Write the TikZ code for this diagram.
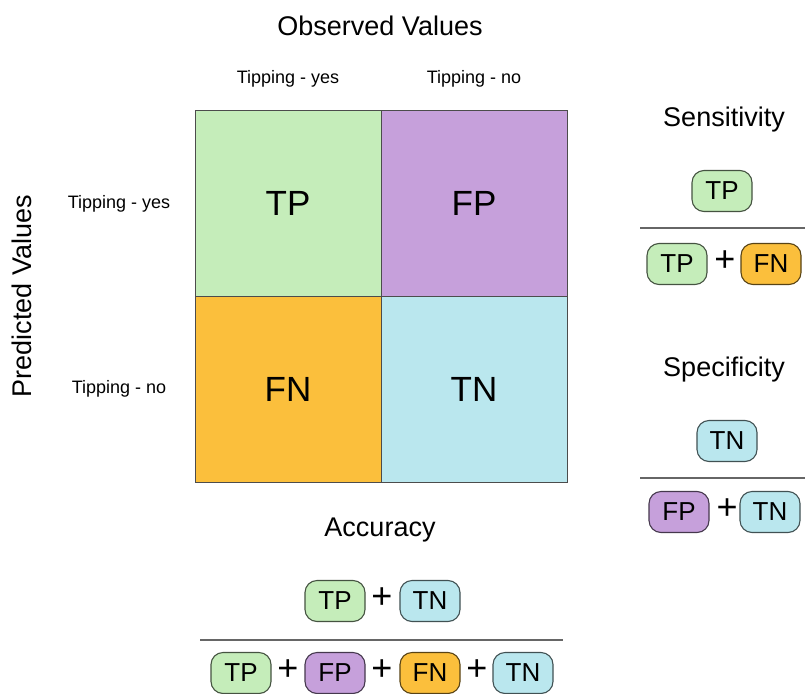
\documentclass[tikz,border=0pt]{standalone}
\usepackage{fontspec}
\setmainfont{Liberation Sans}
\definecolor{cmgreen}{HTML}{C5EDBA}
\definecolor{cmpurple}{HTML}{C6A0DB}
\definecolor{cmorange}{HTML}{FBBF3C}
\definecolor{cmblue}{HTML}{BAE7EE}
\usetikzlibrary{positioning}

\begin{document}
\begin{tikzpicture}[x=1pt,y=-1pt,
  cell/.style={draw=black!70,line width=0.8pt,minimum size=186pt,inner sep=0pt,
    font=\fontsize{35}{35}\selectfont},
  pill/.style={rounded corners=12pt,minimum width=60pt,minimum height=41pt,inner sep=0pt,
    line width=1.1pt,font=\fontsize{26}{26}\selectfont},
  tpp/.style={pill,fill=cmgreen,draw=cmgreen!35!black},
  fpp/.style={pill,fill=cmpurple,draw=cmpurple!35!black},
  fnp/.style={pill,fill=cmorange,draw=cmorange!35!black},
  tnp/.style={pill,fill=cmblue,draw=cmblue!35!black},
  plus/.style={font=\fontsize{36}{36}\selectfont,inner sep=0pt},
  head/.style={font=\fontsize{27}{27}\selectfont},
  tick/.style={font=\fontsize{18}{18}\selectfont},
  bar/.style={draw=black!60,line width=2pt}]
  \useasboundingbox (0,0) rectangle (805,693);
  % the matrix
  \node[head] (obs) at (380,26) {Observed Values};
  \node[head,rotate=90] (pred) at (22,296) {Predicted Values};
  \node[tick] (c-yes) at (288,79) {Tipping - yes};
  \node[tick] (c-no) at (474,79) {Tipping - no};
  \node[tick] (r-yes) at (119,204) {Tipping - yes};
  \node[tick] (r-no) at (119,389) {Tipping - no};
  \node[cell,fill=cmgreen] (tp) at (288,203) {TP};
  \node[cell,fill=cmpurple] (fp) at (474,203) {FP};
  \node[cell,fill=cmorange] (fn) at (288,389) {FN};
  \node[cell,fill=cmblue] (tn) at (474,389) {TN};
  % sensitivity
  \node[head] (sens) at (724,120) {Sensitivity};
  \node[tpp] (sens-n) at (722,191) {TP};
  \coordinate (sens-l) at (640,228);
  \coordinate (sens-r) at (805,228);
  \draw[bar] (sens-l) -- (sens-r);
  \node[tpp] (sens-d1) at (677,264) {TP};
  \node[plus] (sens-p1) at (725,261) {+};
  \node[fnp] (sens-d2) at (771,264) {FN};
  % specificity
  \node[head] (spec) at (724,370) {Specificity};
  \node[tnp] (spec-n) at (727,441) {TN};
  \coordinate (spec-l) at (640,478);
  \coordinate (spec-r) at (805,478);
  \draw[bar] (spec-l) -- (spec-r);
  \node[fpp] (spec-d1) at (679,512) {FP};
  \node[plus] (spec-p1) at (727,509) {+};
  \node[tnp] (spec-d2) at (770,512) {TN};
  % accuracy
  \node[head] (acc) at (380,530) {Accuracy};
  \node[tpp] (acc-n1) at (335,601) {TP};
  \node[plus] (acc-p0) at (382,598) {+};
  \node[tnp] (acc-n2) at (430,601) {TN};
  \coordinate (acc-l) at (200,640);
  \coordinate (acc-r) at (563,640);
  \draw[bar] (acc-l) -- (acc-r);
  \node[tpp] (acc-d1) at (241,673) {TP};
  \node[plus] (acc-p1) at (288,670) {+};
  \node[fpp] (acc-d2) at (335,673) {FP};
  \node[plus] (acc-p2) at (382,670) {+};
  \node[fnp] (acc-d3) at (430,673) {FN};
  \node[plus] (acc-p3) at (477,670) {+};
  \node[tnp] (acc-d4) at (523,673) {TN};
\end{tikzpicture}
\end{document}
